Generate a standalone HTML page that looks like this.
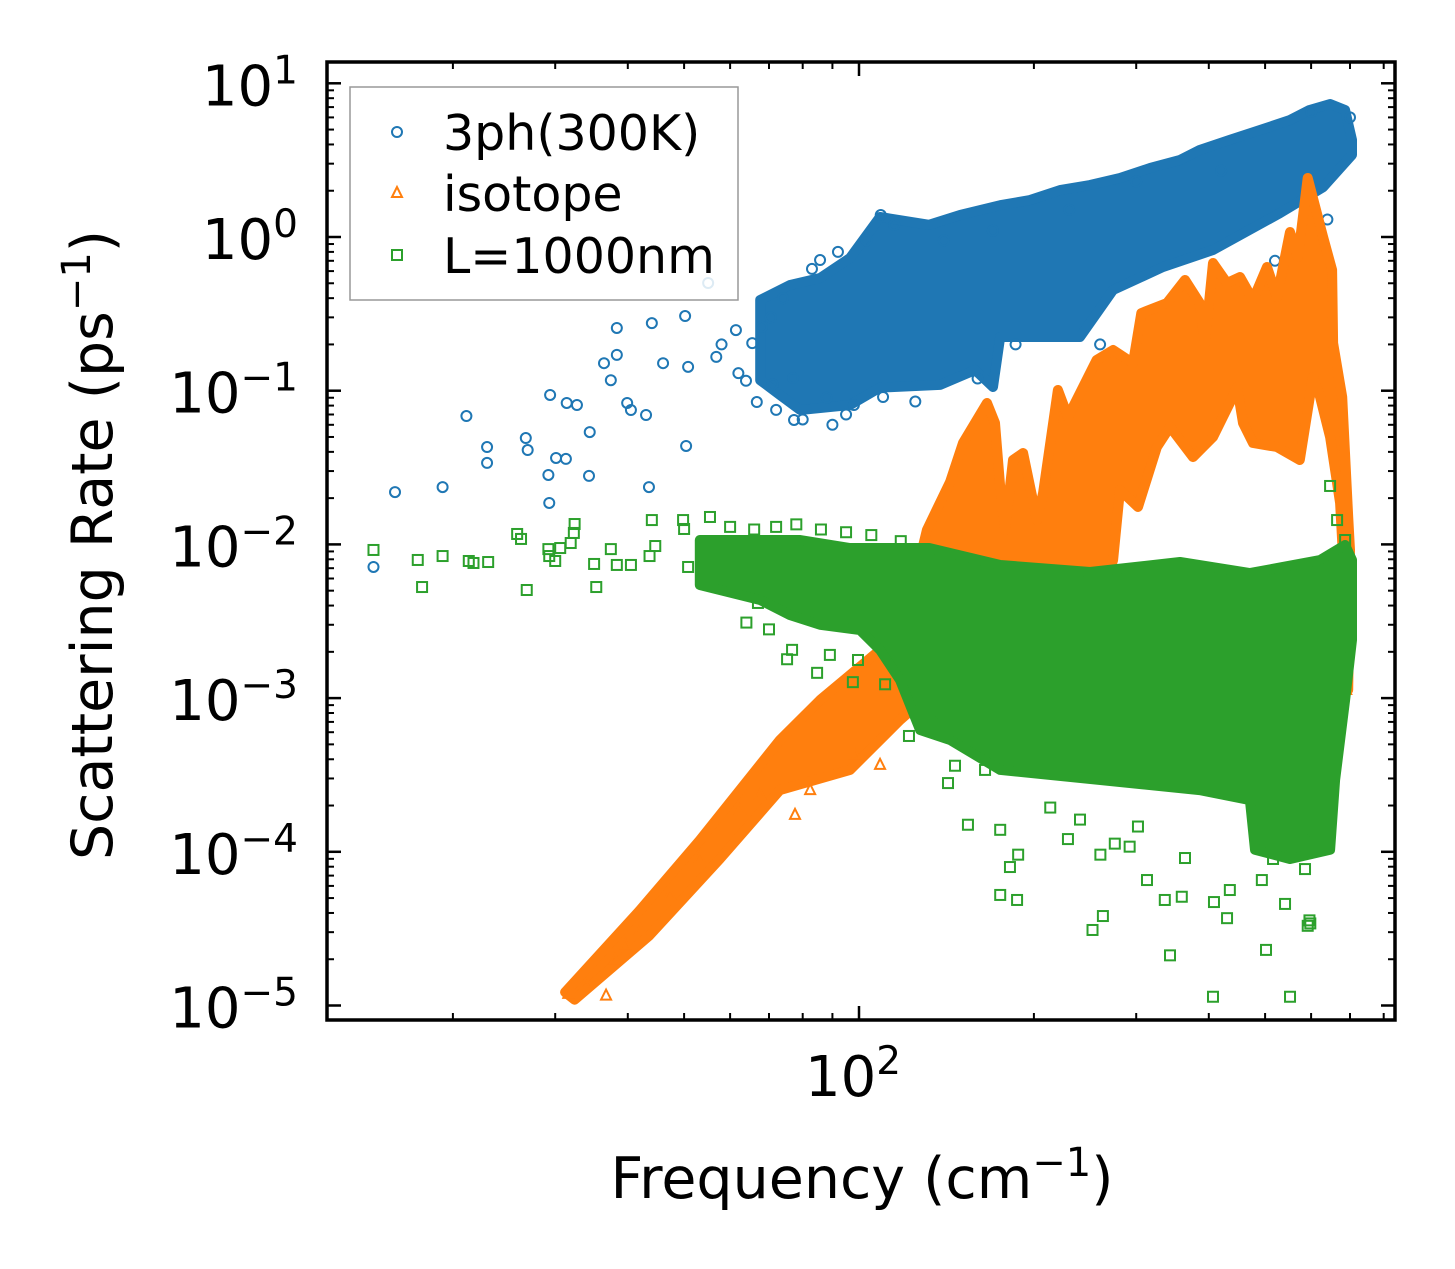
<!DOCTYPE html>
<html><head><meta charset="utf-8"><style>
html,body{margin:0;padding:0;background:#fff;}
svg{display:block;font-family:"DejaVu Sans","Liberation Sans",sans-serif;}
</style></head><body>
<svg id="chart" width="1455" height="1269" viewBox="0 0 1455 1269" xmlns="http://www.w3.org/2000/svg">
<rect width="1455" height="1269" fill="#fff"/>
<g id="marks"></g>
<g id="axes"></g>
</svg>
<script>
// ---- data (frequency cm^-1, rate ps^-1) ----
const blueF=[14.6,15.9,19.2,21.1,22.9,22.9,26.7,26.9,29.2,29.3,29.4,30.1,31.3,31.4,32.7,34.3,34.4,36.4,37.4,38.3,38.3,39.9,40.5,43.0,43.5,44.0,46.0,50.2,50.4,50.8,55.0,56.8,61.4,63.9,65.5,66.7,77.3,77.0,85.7,98.0,109,110,70.5,72.0,74.0,80.0,83.0,88.0,92.0,95.0,103,115,125,140,160,170,186,230,260,300,345,420,520,600,640,700,68.0,62.0,58.0,71.0,90.0];
const blueR=[0.00713,0.0219,0.0236,0.0684,0.0339,0.0430,0.0492,0.0411,0.0283,0.0186,0.0938,0.0365,0.0360,0.0832,0.0807,0.0279,0.0538,0.151,0.117,0.256,0.171,0.0832,0.0749,0.0695,0.0236,0.275,0.151,0.306,0.0437,0.143,0.502,0.166,0.248,0.116,0.204,0.0844,0.0645,0.121,0.708,0.0807,1.39,0.0910,0.30,0.075,0.40,0.065,0.62,0.09,0.80,0.07,0.95,1.20,0.085,0.95,0.12,1.10,0.20,1.50,0.20,2.30,0.30,2.70,0.70,6.50,1.30,6.00,0.26,0.13,0.20,0.11,0.06];
const blueBandF=[67.6,76.1,85.7,96.5,108.7,132.0,149.2,175.0,196.9,221.8,249.8,281.3,317.0,356.9,385.9,434.8,489.9,551.9,596.1,646.9,686.6,705.6,705.6,629.2,530.4,406.7,333.6,273.7,240.1,175.0,170.1,158.4,137.9,108.7,96.5,79.2,73.1,67.6];
const blueBandR=[0.389,0.487,0.541,0.730,1.35,1.20,1.39,1.61,1.74,2.02,2.18,2.42,2.81,3.17,3.68,4.28,4.97,5.77,6.70,7.33,6.70,4.28,3.42,2.11,1.43,0.823,0.638,0.452,0.2236,0.2236,0.1057,0.1364,0.109,0.1047,0.0807,0.0749,0.0938,0.117];

const orangeF=[31.6,33.8,36.7,38.0,39.6,42.0,47.3,53.2,62.4,67.6,77.6,82.4,98.4,108.7,127.4,686.6,689.5,681.4];
const orangeR=[1.19e-5,1.36e-5,1.16e-5,1.98e-5,2.48e-5,3.10e-5,5.24e-5,9.11e-5,1.87e-4,2.34e-4,1.74e-4,2.52e-4,4.27e-4,3.68e-4,9.02e-4,1.77e-3,1.13e-3,3.63e-3];
const orangeBandF=[31.2,42.0,53.2,73.1,85.7,108.7,122.4,130.9,143.5,151.0,166.1,171.4,175.0,178.4,184.1,191.6,202.5,207.4,220.0,228.9,256.4,273.7,296.2,306.1,338.9,364.0,385.9,394.0,406.7,430.0,452.7,476.6,503.8,524.2,551.9,569.7,592.0,629.2,652.0,654.6,678.6,695.1,700.0,695.1,681.4,673.1,646.9,621.8,604.6,573.7,524.2,476.6,458.1,447.4,434.8,406.7,375.8,343.0,325.7,302.1,281.3,273.7,260.3,213.4,161.6,117.7,96.5,73.1,57.6,43.6,32.4];
const orangeBandR=[1.22e-5,4.18e-5,1.19e-4,5.34e-4,9.72e-4,2.06e-3,4.35e-3,0.01241,0.0255,0.0457,0.0832,0.0616,0.0236,0.01241,0.0354,0.0393,0.0144,0.0216,0.1011,0.0674,0.1584,0.184,0.151,0.320,0.372,0.525,0.372,0.204,0.677,0.502,0.549,0.389,0.638,0.407,1.078,0.741,2.42,1.00,0.610,0.204,0.0910,0.01508,0.00920,0.00113,0.00792,0.0186,0.0500,0.0910,0.1228,0.0354,0.0430,0.0457,0.0616,0.1057,0.0832,0.0500,0.0370,0.0581,0.0430,0.0175,0.0226,0.00792,0.00435,0.00374,0.00206,7.20e-4,3.41e-4,2.52e-4,8.98e-5,2.86e-5,1.09e-5];

const greenF=[14.6,17.4,17.7,19.2,21.3,21.7,23.0,25.8,26.2,26.8,29.2,29.3,30.0,30.6,31.9,32.3,32.4,35.3,35.0,37.4,38.3,40.5,43.6,44.0,44.6,49.8,50.0,50.8,55.4,67.0,76.7,75.2,89.1,84.7,99.6,97.6,110.9,121.9,133.5,146.3,142.3,164.8,154.0,181.9,181.9,175.0,213.4,187.1,228.9,240.1,252.3,262.9,260.3,275.6,292.3,302.1,313.1,336.0,359.4,364.0,343.0,408.3,430.0,434.8,493.6,516.0,551.9,604.6,541.1,585.7,596.1,592.0,406.7,551.9,501.8,598.1,678.6,646.9,665.1,686.6,187.9,175.0,60.0,66.0,72.0,78.0,86.0,95.0,105,118,64.0,70.0];
const greenR=[0.00920,0.00792,0.00528,0.00840,0.00780,0.00757,0.00768,0.01169,0.01085,0.00505,0.00932,0.00840,0.00780,0.00947,0.01021,0.01187,0.01357,0.00528,0.00746,0.00932,0.00735,0.00735,0.00840,0.0144,0.00976,0.0144,0.0126,0.00713,0.01508,0.00416,0.00206,0.00179,0.00191,0.00146,0.00177,0.00127,0.00123,5.67e-4,8.00e-4,3.63e-4,2.80e-4,3.41e-4,1.50e-4,3.68e-4,7.96e-5,1.39e-4,1.94e-4,4.86e-5,1.21e-4,1.62e-4,3.10e-5,3.82e-5,9.58e-5,1.13e-4,1.08e-4,1.46e-4,6.55e-5,4.86e-5,5.10e-5,9.11e-5,2.12e-5,4.71e-5,3.70e-5,5.64e-5,6.55e-5,8.98e-5,1.08e-4,1.19e-4,4.58e-5,7.72e-5,3.58e-5,3.30e-5,1.14e-5,1.14e-5,2.30e-5,3.42e-5,0.00393,0.0240,0.0144,0.01068,9.58e-5,5.24e-5,0.0130,0.0125,0.0130,0.0135,0.0125,0.0120,0.0115,0.0105,0.0031,0.0028];
const greenBandF=[53.2,79.2,96.5,132.0,175.0,249.8,356.9,470.8,621.8,686.6,705.6,705.6,686.6,659.9,646.9,551.9,480.3,470.8,385.9,260.3,175.0,143.5,127.4,117.7,108.7,100.4,85.7,76.1,67.6,53.2];
const greenBandR=[0.01068,0.01068,0.00947,0.00947,0.00735,0.00661,0.00768,0.00651,0.00792,0.00991,0.00792,0.00239,9.72e-4,2.93e-4,1.03e-4,8.98e-5,1.03e-4,2.17e-4,2.52e-4,2.93e-4,3.41e-4,5.34e-4,6.20e-4,0.00131,0.00206,0.00277,0.00300,0.00347,0.00435,0.00544];

const yTickExp=[1,0,-1,-2,-3,-4,-5];
const xMinorVals=[20,30,40,50,60,70,80,90,200,300,400,500,600,700,800];

// ---- axes ----
const L=327,R=1395,T=62,B=1020;
const X0=859,XD=581,Y0=237,YD=153.7;
function sx(f){return X0+XD*Math.log10(f/100);}
function sy(r){return Y0-YD*Math.log10(r);}
const NS="http://www.w3.org/2000/svg";
function mk(tag,attrs,parent){const e=document.createElementNS(NS,tag);for(const k in attrs)e.setAttribute(k,attrs[k]);parent.appendChild(e);return e;}
const marks=document.getElementById('marks');
const axes=document.getElementById('axes');
const C={b:'#1f77b4',o:'#ff7f0e',g:'#2ca02c'};

function band(F,Rr,col,name){
  const pts=F.map((f,i)=>sx(f).toFixed(1)+','+sy(Rr[i]).toFixed(1)).join(' ');
  const p=mk('polygon',{points:pts,fill:col,stroke:col,'stroke-width':10,'stroke-linejoin':'round'},marks);
  
  
}
function circles(F,Rr){
  F.forEach((f,i)=>{const c=mk('circle',{cx:sx(f),cy:sy(Rr[i]),r:5,fill:'none',stroke:C.b,'stroke-width':2},marks);
    
    });
}
function tris(F,Rr){
  F.forEach((f,i)=>{const x=sx(f),y=sy(Rr[i]);
    const t=mk('polygon',{points:`${x},${y-6} ${x-5},${y+4} ${x+5},${y+4}`,fill:'none',stroke:C.o,'stroke-width':2},marks);
    
    });
}
function squares(F,Rr){
  F.forEach((f,i)=>{const x=sx(f),y=sy(Rr[i]);
    const s=mk('rect',{x:x-5,y:y-5,width:10,height:10,fill:'none',stroke:C.g,'stroke-width':2},marks);
    
    });
}
band(blueBandF,blueBandR,C.b,'band-3ph');
circles(blueF,blueR);
band(orangeBandF,orangeBandR,C.o,'band-isotope');
tris(orangeF,orangeR);
band(greenBandF,greenBandR,C.g,'band-boundary');
squares(greenF,greenR);

// ticks
function line(x1,y1,x2,y2,w,name){const l=mk('line',{x1,y1,x2,y2,stroke:'#000','stroke-width':w},axes);
  
  }
yTickExp.forEach(e=>{
  const y=sy(Math.pow(10,e));
  line(L,y,L+14,y,2.5,'y-major-tick');line(R,y,R-14,y,2.5,'y-major-tick');
  const t=mk('text',{x:298,y:y+22,'text-anchor':'end','font-size':56},axes);
  
  
  t.innerHTML='10<tspan dy="-22" font-size="39">'+(e<0?'\u2212'+(-e):e)+'</tspan>';
  if(e>-5){for(let m=2;m<=9;m++){const ym=sy(m*Math.pow(10,e-1));
    line(L,ym,L+7,ym,2,'y-minor-tick');line(R,ym,R-7,ym,2,'y-minor-tick');}}
});
for(let m=2;m<=9;m++){const ym=sy(m*Math.pow(10,1));if(ym>T){line(L,ym,L+7,ym,2,'y-minor-tick');line(R,ym,R-7,ym,2,'y-minor-tick');}}
xMinorVals.forEach(v=>{const x=sx(v);line(x,B,x,B-7,2,'x-minor-tick');line(x,T,x,T+7,2,'x-minor-tick');});
{const x=sx(100);line(x,B,x,B-14,2.5,'x-major-tick');line(x,T,x,T+14,2.5,'x-major-tick');
 const t=mk('text',{x:x-6,y:1096,'text-anchor':'middle','font-size':56},axes);
 
 
 t.innerHTML='10<tspan dy="-22" font-size="39">2</tspan>';}
const frame=mk('rect',{x:L,y:T,width:R-L,height:B-T,fill:'none',stroke:'#000','stroke-width':3.5},axes);


</script>
<svg style="position:absolute;left:0;top:0" width="1455" height="1269">
<g font-family="DejaVu Sans, Liberation Sans, sans-serif">
<rect x="350" y="87" width="388" height="213" fill="#fff" fill-opacity="0.85" stroke="#999" stroke-width="1.5"/>
<circle cx="397" cy="132" r="5" fill="none" stroke="#1f77b4" stroke-width="2"/>
<text x="443" y="150" font-size="49">3ph(300K)</text>
<polygon points="397,187 392,197 402,197" fill="none" stroke="#ff7f0e" stroke-width="2"/>
<text x="443" y="211" font-size="49">isotope</text>
<rect x="392" y="250" width="10" height="10" fill="none" stroke="#2ca02c" stroke-width="2"/>
<text x="443" y="273" font-size="49">L=1000nm</text>
</g>
<text x="862" y="1198" text-anchor="middle" font-size="57" font-family="DejaVu Sans, Liberation Sans, sans-serif">Frequency (cm<tspan dy="-22" font-size="40">−1</tspan><tspan dy="22">)</tspan></text>
<text transform="translate(112,545) rotate(-90)" text-anchor="middle" font-size="57" font-family="DejaVu Sans, Liberation Sans, sans-serif">Scattering Rate (ps<tspan dy="-22" font-size="40">−1</tspan><tspan dy="22">)</tspan></text>
</svg>
</body></html>
